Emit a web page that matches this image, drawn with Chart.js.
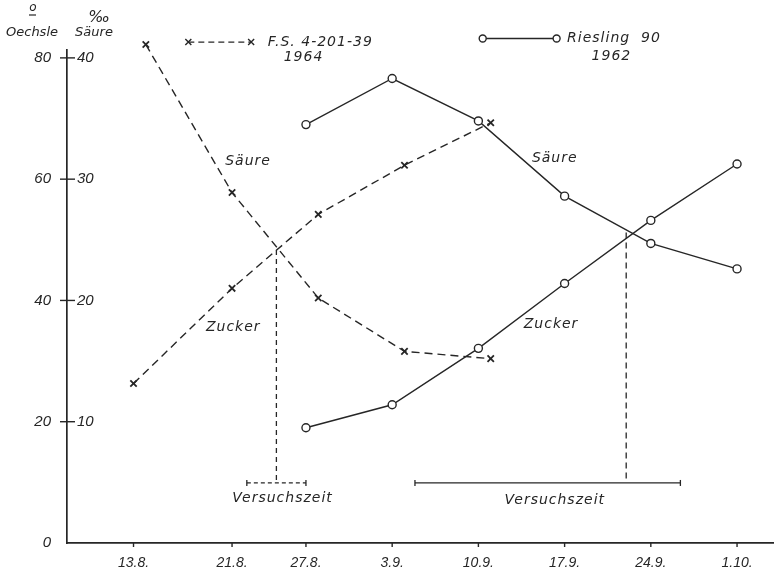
<!DOCTYPE html>
<html>
<head>
<meta charset="utf-8">
<script src="https://cdn.jsdelivr.net/npm/chart.js@4.4.1/dist/chart.umd.min.js"></script>
<style>
  html, body { margin: 0; padding: 0; background: #fff; }
</style>
</head>
<body>
<canvas id="chart" width="774" height="568"></canvas>
<script>
// x values are days counted from 1 August
const xTickDays = [13, 21, 27, 34, 41, 48, 55, 62];
const xTickLabels = ['13.8.', '21.8.', '27.8.', '3.9.', '10.9.', '17.9.', '24.9.', '1.10.'];
const oechsleTicks = [0, 20, 40, 60, 80];
const saeureTicks = [10, 20, 30, 40];

// F.S. 4-201-39, 1964
const fsSaeureDays = [14, 21, 28, 35, 42];
const fsSaeure = [41.1, 28.9, 20.2, 15.8, 15.2];      // ‰ Säure
const fsZuckerDays = [13, 21, 28, 35, 42];
const fsZucker = [26.3, 42.0, 54.2, 62.3, 69.3];      // ° Oechsle

// Riesling 90, 1962
const rieslingDays = [27, 34, 41, 48, 55, 62];
const rieslingSaeure = [34.5, 38.3, 34.8, 28.6, 24.7, 22.6];
const rieslingZucker = [19.0, 22.8, 32.1, 42.8, 53.2, 62.5];

// Versuchszeit: crossing day, crossing level (Oechsle), bracket start/end day
const fsTrial = { day: 24.6, level: 48.3, from: 22.2, to: 27.0 };
const rieslingTrial = { day: 53.0, level: 51.2, from: 35.85, to: 57.4 };

const ink = '#262626';
const tickFont = 'italic 15px "Liberation Sans", sans-serif';
const textFont = 'italic 14px "DejaVu Sans", sans-serif';

const pts = (xs, ys) => xs.map((x, i) => ({ x: x, y: ys[i] }));

const fsStyle = {
  showLine: true, clip: false, borderColor: ink, borderWidth: 1.4, borderDash: [8, 5],
  pointStyle: 'crossRot', pointRadius: 4.5, pointBorderWidth: 1.8,
  pointBorderColor: ink, pointBackgroundColor: ink
};
const rieslingStyle = {
  showLine: true, clip: false, borderColor: ink, borderWidth: 1.4,
  pointStyle: 'circle', pointRadius: 4, pointBorderWidth: 1.4,
  pointBorderColor: ink, pointBackgroundColor: '#fff'
};

const annotations = {
  id: 'annotations',
  afterDraw(chart) {
    const c = chart.ctx;
    const sx = chart.scales.x, sy = chart.scales.y, sy2 = chart.scales.y2;
    const px = d => sx.getPixelForValue(d);
    const py = v => sy.getPixelForValue(v);
    const x0 = sx.left, yb = sy.bottom;
    c.save();
    c.strokeStyle = ink;
    c.fillStyle = ink;
    c.lineWidth = 1.4;

    // y tick marks crossing the axis, x tick marks below the axis
    oechsleTicks.forEach(v => {
      if (v === 0) return;
      c.beginPath(); c.moveTo(x0 - 7, py(v)); c.lineTo(x0 + 8, py(v)); c.stroke();
    });
    xTickDays.forEach(d => {
      c.beginPath(); c.moveTo(px(d), yb); c.lineTo(px(d), yb + 4); c.stroke();
    });

    // right-hand Säure labels
    c.font = tickFont;
    c.textAlign = 'left';
    c.textBaseline = 'middle';
    saeureTicks.forEach(v => c.fillText(String(v), x0 + 10, sy2.getPixelForValue(v)));

    // axis titles
    c.textAlign = 'center';
    c.font = 'italic 12px "DejaVu Sans", sans-serif';
    c.fillText('o', 33, 8);
    c.lineWidth = 1.2;
    c.beginPath(); c.moveTo(29, 15); c.lineTo(36, 15); c.stroke();
    c.font = 'italic 16px "DejaVu Sans", sans-serif';
    c.fillText('‰', 99, 18);
    c.font = 'italic 13px "DejaVu Sans", sans-serif';
    c.fillText('Oechsle', 32, 33);
    c.fillText('Säure', 94, 33);

    // Versuchszeit markers
    c.lineWidth = 1.3;
    [[fsTrial, [5, 4], [4, 3]], [rieslingTrial, [6, 4], []]].forEach(([t, vDash, hDash]) => {
      const yBar = py(9.9);
      c.setLineDash(vDash);
      c.beginPath(); c.moveTo(px(t.day), py(t.level)); c.lineTo(px(t.day), py(10.4)); c.stroke();
      c.setLineDash(hDash);
      c.beginPath(); c.moveTo(px(t.from), yBar); c.lineTo(px(t.to), yBar); c.stroke();
      c.setLineDash([]);
      [t.from, t.to].forEach(d => {
        c.beginPath(); c.moveTo(px(d), yBar - 3); c.lineTo(px(d), yBar + 3); c.stroke();
      });
    });

    c.font = textFont;
    c.letterSpacing = '1px';
    c.textAlign = 'center';
    c.fillText('Versuchszeit', px(25.1), py(7.4));
    c.fillText('Versuchszeit', px(47.2), py(7.1));
    c.fillText('Säure', px(22.3), py(63.0));
    c.fillText('Zucker', px(21.1), py(35.5));
    c.fillText('Säure', px(47.2), py(63.5));
    c.fillText('Zucker', px(46.9), py(36.0));

    // legend
    c.lineWidth = 1.4;
    const ly1 = py(82.6);
    c.setLineDash([6, 4]);
    c.beginPath(); c.moveTo(px(17.45), ly1); c.lineTo(px(22.55), ly1); c.stroke();
    c.setLineDash([]);
    [17.45, 22.55].forEach(d => {
      const x = px(d);
      c.beginPath();
      c.moveTo(x - 3, ly1 - 3); c.lineTo(x + 3, ly1 + 3);
      c.moveTo(x + 3, ly1 - 3); c.lineTo(x - 3, ly1 + 3);
      c.stroke();
    });
    c.textAlign = 'left';
    c.fillText('F.S. 4-201-39', px(23.9), ly1);
    c.textAlign = 'center';
    c.fillText('1964', px(26.8), py(80.1));

    const ly2 = py(83.2);
    c.beginPath(); c.moveTo(px(41.35), ly2); c.lineTo(px(47.35), ly2); c.stroke();
    [41.35, 47.35].forEach(d => {
      c.beginPath(); c.arc(px(d), ly2, 3.5, 0, Math.PI * 2);
      c.fillStyle = '#fff'; c.fill(); c.stroke();
    });
    c.fillStyle = ink;
    c.textAlign = 'left';
    c.fillText('Riesling  90', px(48.2), ly2);
    c.textAlign = 'center';
    c.fillText('1962', px(51.8), py(80.3));
    c.restore();
  }
};

new Chart(document.getElementById('chart'), {
  type: 'scatter',
  data: {
    datasets: [
      Object.assign({ label: 'F.S. Säure', data: pts(fsSaeureDays, fsSaeure), yAxisID: 'y2' }, fsStyle),
      Object.assign({ label: 'F.S. Zucker', data: pts(fsZuckerDays, fsZucker), yAxisID: 'y' }, fsStyle),
      Object.assign({ label: 'Riesling Säure', data: pts(rieslingDays, rieslingSaeure), yAxisID: 'y2' }, rieslingStyle),
      Object.assign({ label: 'Riesling Zucker', data: pts(rieslingDays, rieslingZucker), yAxisID: 'y' }, rieslingStyle)
    ]
  },
  options: {
    responsive: false,
    animation: false,
    layout: { padding: { top: 50, left: 0, right: 0, bottom: 0 }, autoPadding: false },
    plugins: { legend: { display: false }, tooltip: { enabled: false } },
    scales: {
      x: {
        type: 'linear', min: 7.6, max: 65,
        afterBuildTicks: s => { s.ticks = xTickDays.map(v => ({ value: v })); },
        afterFit: s => { s.height = 25; },
        grid: { display: false },
        border: { display: true, color: ink, width: 1.7 },
        ticks: {
          callback: v => xTickLabels[xTickDays.indexOf(v)],
          font: { family: '"Liberation Sans", sans-serif', size: 14, style: 'italic', lineHeight: 1 },
          color: ink, padding: 5, maxRotation: 0, autoSkip: false
        }
      },
      y: {
        min: 0, max: 81.3,
        afterBuildTicks: s => { s.ticks = oechsleTicks.map(v => ({ value: v })); },
        afterFit: s => { s.width = 67; },
        grid: { display: false },
        border: { display: true, color: ink, width: 1.7 },
        ticks: {
          callback: v => String(v),
          font: { family: '"Liberation Sans", sans-serif', size: 15, style: 'italic' },
          color: ink, padding: 8
        }
      },
      y2: { display: false, min: 0, max: 40.65 }
    }
  },
  plugins: [annotations]
});
</script>
</body>
</html>
